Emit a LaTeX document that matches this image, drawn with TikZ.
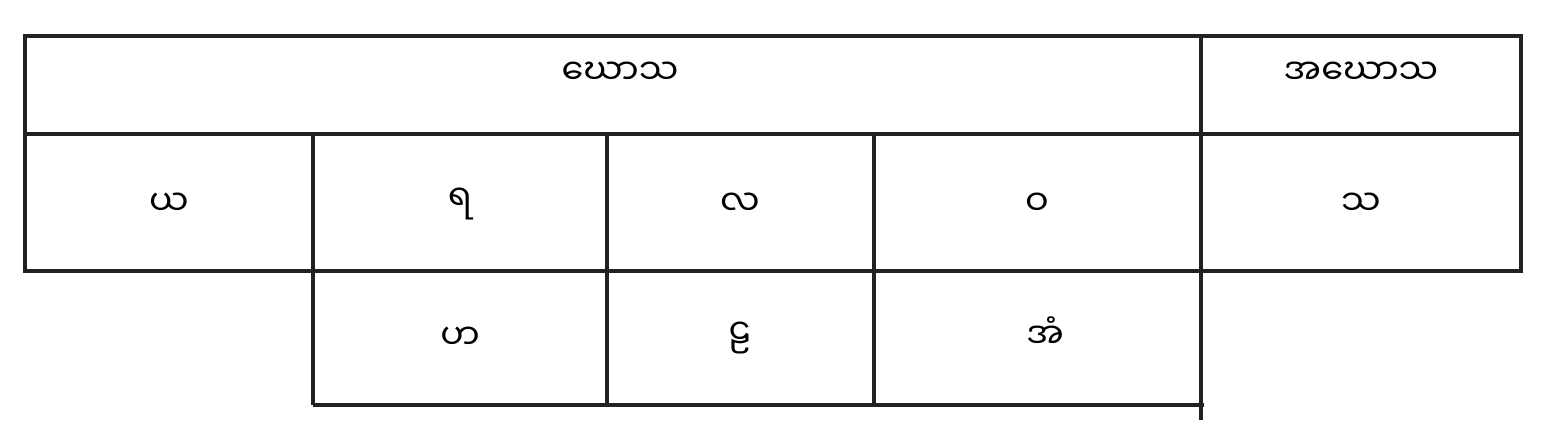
\documentclass[tikz,border=0pt]{standalone}
\usepackage{fontspec}
\newfontfamily\mmfont[Script=Myanmar]{Noto Sans Myanmar UI}
\definecolor{rule}{HTML}{222222}
\begin{document}
\begin{tikzpicture}[x=0.02cm,y=-0.02cm]
                \tikzset{every node/.style={font=\mmfont\fontsize{20}{24}\selectfont, inner sep=0pt}}
                \tikzset{grid/.style={draw=rule, line width=2pt}}
                \useasboundingbox (0,0) rectangle (1544,430);
                \draw[grid] (25,36) rectangle (1521,271);
                \draw[grid] (25,134) -- (1521,134);
                \draw[grid] (1201,36) -- (1201,420);
                \draw[grid] (313,134) -- (313,405);
                \draw[grid] (607,134) -- (607,405);
                \draw[grid] (874,134) -- (874,405);
                \draw[grid] (313,405) -- (1204,405);
                \node (ghosa) at (620,73) {ဃောသ};
                \node (aghosa) at (1361,73) {အဃောသ};
                \node (ya) at (169,204) {ယ};
                \node (ra) at (460,204) {ရ};
                \node (la) at (740,204) {လ};
                \node (wa) at (1037,204) {ဝ};
                \node (sa) at (1361,204) {သ};
                \node (ha) at (460,338) {ဟ};
                \node (lla) at (740,338) {ဠ};
                \node (am) at (1045,333) {အံ};
            \end{tikzpicture}
\end{document}
